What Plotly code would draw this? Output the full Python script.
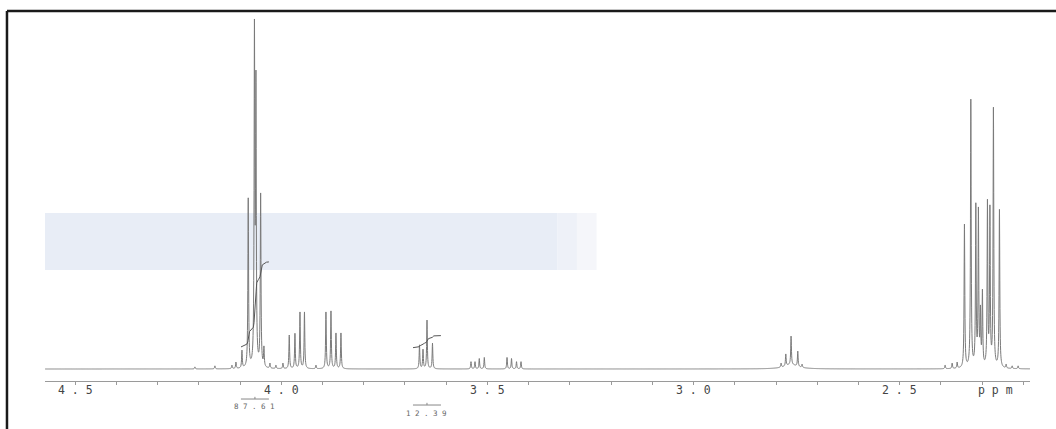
import numpy as np
import plotly.graph_objects as go

# ---------------- data ----------------
# chemical shifts in ppm and peak heights (0 = baseline, 100 = tallest line)
group_a_ppm = [4.1196, 4.1099, 4.0953, 4.0801, 4.0650, 4.0614, 4.0500, 4.0420, 4.0274, 4.0129]
group_a_height = [1.1, 2.0, 5.4, 48.9, 100.0, 85.4, 50.3, 6.6, 1.7, 1.1]

group_b_ppm = [3.9959, 3.9806, 3.9668, 3.9546, 3.9437, 3.9158, 3.8916, 3.8794, 3.8673, 3.8552]
group_b_height = [1.7, 9.7, 10.2, 16.3, 16.3, 1.1, 16.3, 16.6, 10.3, 10.3]

group_c_ppm = [3.6647, 3.6562, 3.6465, 3.6332]
group_c_height = [6.9, 5.7, 14.0, 7.4]

group_d_ppm = [3.5398, 3.5301, 3.5197, 3.5075]
group_d_height = [2.1, 2.1, 3.0, 3.3]

group_e_ppm = [3.4524, 3.4415, 3.4294, 3.4185]
group_e_height = [3.3, 3.0, 2.1, 2.1]

group_f_ppm = [2.7877, 2.7763, 2.7635, 2.7472, 2.7368]
group_f_height = [1.7, 4.3, 9.4, 5.1, 1.4]

group_g_ppm = [2.3899, 2.3728, 2.3607, 2.3430, 2.3275, 2.3154, 2.3091, 2.3042,
               2.2994, 2.2872, 2.2812, 2.2727, 2.2581, 2.2419, 2.2273, 2.2128]
group_g_height = [1.1, 1.7, 2.0, 41.4, 77.1, 47.5, 46.3, 18.3,
                  22.8, 48.5, 46.9, 74.8, 45.6, 1.4, 0.9, 0.9]

small_ppm = [4.2094, 4.1609]
small_height = [0.6, 0.9]

broad_ppm = [2.7635]
broad_height = [1.2]
broad_hwhm = [0.02]

line_hwhm = 0.0010

integral_labels = ["87.61", "12.39"]
integral_values = [87.61, 12.39]
integral_start = [4.0978, 3.6805]
integral_end = [4.0299, 3.6126]
integral_offset = [6.3, 6.1]
integral_rise_87 = 24.3

major_ticks = [4.5, 4.0, 3.5, 3.0, 2.5]
major_labels = ["4.5", "4.0", "3.5", "3.0", "2.5"]
unit_label = "ppm"
ppm_range = [4.573, 2.184]
y_range = [-3.43, 100.57]

# ---------------- build spectrum ----------------
centers = np.array(group_a_ppm + group_b_ppm + group_c_ppm + group_d_ppm +
                   group_e_ppm + group_f_ppm + group_g_ppm + small_ppm)
heights = np.array(group_a_height + group_b_height + group_c_height + group_d_height +
                   group_e_height + group_f_height + group_g_height + small_height)


def lor(x, c, w):
    return 1.0 / (1.0 + ((x - c) / w) ** 2)


def broad(x):
    out = np.zeros_like(x, dtype=float)
    for c, h, w in zip(broad_ppm, broad_height, broad_hwhm):
        out += h * lor(x, c, w)
    return out


# amplitudes so that the summed spectrum hits the read heights at the centres
M = lor(centers[:, None], centers[None, :], line_hwhm)
amps = np.linalg.solve(M, heights - broad(centers))

grid = np.arange(min(ppm_range), max(ppm_range), 0.0004)
x = np.unique(np.concatenate([grid, centers]))
y = broad(x)
for c, a in zip(centers, amps):
    y += a * lor(x, c, line_hwhm)

fig = go.Figure()

# faint scan band
band = [(0.0, 0.52, "#e8edf6"), (0.52, 0.54, "#eef1f8"), (0.54, 0.56, "#f5f6fa")]
for x0, x1, col in band:
    fig.add_shape(type="rect", xref="paper", yref="paper", x0=x0, x1=x1, y0=0.305, y1=0.4615,
                  fillcolor=col, line=dict(width=0), layer="below")

fig.add_trace(go.Scatter(x=x, y=y, mode="lines", line=dict(color="#7a7a7a", width=1, simplify=False),
                         hoverinfo="skip", showlegend=False))

# integral curves
for lab, val, s, e, off in zip(integral_labels, integral_values, integral_start, integral_end, integral_offset):
    m = (x <= s) & (x >= e)
    xs = x[m][::-1]
    ys = y[m][::-1]
    cum = np.concatenate([[0.0], np.cumsum((ys[1:] + ys[:-1]) / 2 * np.abs(np.diff(xs)))])
    cum = cum / cum[-1]
    rise = integral_rise_87 * val / integral_values[0]
    fig.add_trace(go.Scatter(x=xs, y=off + rise * cum, mode="lines",
                             line=dict(color="#555555", width=1), hoverinfo="skip", showlegend=False))

# integral brackets and labels under the axis
bracket_y = [-0.0495, -0.066]
label_y = [-0.069, -0.088]
for lab, s, e, by, ly in zip(integral_labels, integral_start, integral_end, bracket_y, label_y):
    fig.add_shape(type="line", xref="x", yref="paper", x0=s, x1=e, y0=by, y1=by,
                  line=dict(color="#888888", width=1))
    fig.add_shape(type="line", xref="x", yref="paper", x0=(s + e) / 2, x1=(s + e) / 2, y0=by, y1=by + 0.006,
                  line=dict(color="#888888", width=1))
    fig.add_annotation(x=(s + e) / 2, y=ly, xref="x", yref="paper", text=" ".join(lab), showarrow=False,
                       font=dict(family="DejaVu Sans Mono", size=7.5, color="#666666"),
                       xanchor="center", yanchor="middle")

# major tick labels (spaced monospace, close under the axis)
for v, lab in zip(major_ticks, major_labels):
    fig.add_annotation(x=v, y=-0.0247, xref="x", yref="paper", text=" ".join(lab), showarrow=False,
                       font=dict(family="DejaVu Sans Mono", size=11.5, color="#444444"),
                       xanchor="center", yanchor="middle")

# ppm unit label
fig.add_annotation(x=0.9645, y=-0.0247, xref="paper", yref="paper", text=" ".join(unit_label), showarrow=False,
                   font=dict(family="DejaVu Sans Mono", size=11.5, color="#444444"),
                   xanchor="center", yanchor="middle")

# frame of the scanned page
fig.add_shape(type="line", xref="paper", yref="paper", x0=-0.0386, x1=1.03, y0=1.0165, y1=1.0165,
              line=dict(color="#1a1a1a", width=2.5))
fig.add_shape(type="line", xref="paper", yref="paper", x0=-0.0386, x1=-0.0386, y0=1.0165, y1=-0.14,
              line=dict(color="#1a1a1a", width=2.5))

tickvals = [round(v, 1) for v in np.arange(2.2, 4.51, 0.1)]

fig.update_layout(
    width=1056, height=429,
    margin=dict(l=45, r=26, t=17, b=48),
    paper_bgcolor="white", plot_bgcolor="white",
    xaxis=dict(range=ppm_range, showgrid=False, zeroline=False, showline=True, linecolor="#9a9a9a",
               linewidth=1, ticks="outside", ticklen=3, tickcolor="#9a9a9a",
               tickmode="array", tickvals=tickvals, showticklabels=False),
    yaxis=dict(range=y_range, visible=False, showgrid=False, zeroline=False),
)

fig.write_html("out.html", config={"displayModeBar": False},
               post_script="document.body.style.margin='0';document.body.style.overflow='hidden';")
